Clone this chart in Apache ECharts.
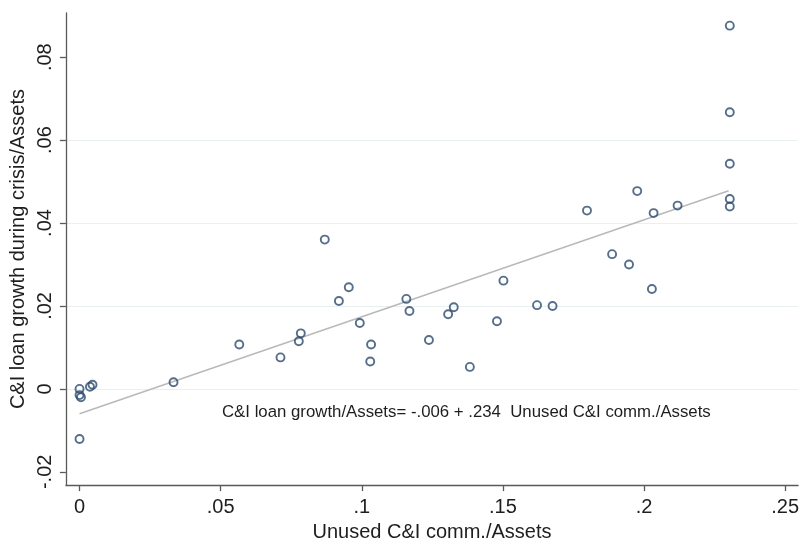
<!DOCTYPE html>
<html>
<head>
<meta charset="utf-8">
<script src="https://cdn.jsdelivr.net/npm/echarts@6/dist/echarts.min.js"></script>
<style>html,body{margin:0;padding:0;background:#fff;}#c{width:802px;height:547px;}</style>
</head>
<body>
<div id="c"></div>
<script>
// Unused C&I commitments / Assets (x) and C&I loan growth / Assets (y)
const unusedComm = [
  0, 0, 0.0005, 0.0037, 0.0046, 0, 0.0333,
  0.0566, 0.0712, 0.0777, 0.0784, 0.0869, 0.0919, 0.0954, 0.0993, 0.1033, 0.1030, 0.1158, 0.1169,
  0.1238, 0.1306, 0.1326, 0.1383, 0.1479, 0.1502, 0.1621, 0.1676,
  0.1798, 0.1887, 0.1947, 0.1976, 0.2028, 0.2034, 0.2119, 0.2304, 0.2304, 0.2304, 0.2304, 0.2304
];
const loanGrowth = [
  0.0000, -0.0015, -0.0020, 0.0005, 0.0010, -0.0121, 0.0016,
  0.0107, 0.0076, 0.0115, 0.0134, 0.0360, 0.0212, 0.0245, 0.0159, 0.0107, 0.0066, 0.0217, 0.0188,
  0.0118, 0.0180, 0.0197, 0.0053, 0.0163, 0.0261, 0.0202, 0.0200,
  0.0430, 0.0325, 0.0300, 0.0477, 0.0241, 0.0424, 0.0442, 0.0876, 0.0667, 0.0543, 0.0458, 0.0440
];
// fitted line endpoints
const fitX = [0, 0.23];
const fitY = [-0.006, 0.0478];
const xTicks = [0, 0.05, 0.1, 0.15, 0.2, 0.25];
const yTicks = [-0.02, 0, 0.02, 0.04, 0.06, 0.08];
const xTitle = 'Unused C&I comm./Assets';
const yTitle = 'C&I loan growth during crisis/Assets';
const noteText = 'C&I loan growth/Assets= -.006 + .234  Unused C&I comm./Assets';

function fmt(v) {
  v = +(+v).toFixed(4);
  if (v === 0) return '0';
  return (v < 0 ? '-' : '') + String(Math.abs(v)).replace(/^0/, '');
}

const FONT = '"Liberation Sans", Arial, Helvetica, sans-serif';
const chart = echarts.init(document.getElementById('c'));
chart.setOption({
  animation: false,
  backgroundColor: '#ffffff',
  textStyle: { fontFamily: FONT },
  grid: { left: 65, right: 1, top: 13, bottom: 54, containLabel: false },
  xAxis: {
    type: 'value',
    min: -0.00483, max: 0.2546,
    name: xTitle, nameLocation: 'middle', nameGap: 34,
    nameTextStyle: { fontSize: 20, color: '#1e1e1e', fontFamily: FONT },
    axisLine: { show: true, onZero: false, lineStyle: { color: '#5a5a5a', width: 1.3 } },
    axisTick: { show: true, length: 6, customValues: xTicks, lineStyle: { color: '#5a5a5a', width: 1.3 } },
    axisLabel: { customValues: xTicks, formatter: fmt, fontSize: 20, color: '#1e1e1e', margin: 12, fontFamily: FONT },
    splitLine: { show: false }
  },
  yAxis: {
    type: 'value',
    min: -0.0232, max: 0.09065,
    name: yTitle, nameLocation: 'middle', nameGap: 37, nameRotate: 90,
    nameTextStyle: { fontSize: 20, color: '#1e1e1e', fontFamily: FONT },
    axisLine: { show: true, onZero: false, lineStyle: { color: '#5a5a5a', width: 1.3 } },
    axisTick: { show: true, length: 6, customValues: yTicks, lineStyle: { color: '#5a5a5a', width: 1.3 } },
    axisLabel: { customValues: yTicks, formatter: fmt, fontSize: 20, color: '#1e1e1e', margin: 10, rotate: 90, fontFamily: FONT },
    splitLine: { show: true, showMinLine: false, showMaxLine: false, lineStyle: { color: '#eaf0f2', width: 1.2 } }
  },
  graphic: [{
    type: 'text', left: 222, top: 404, silent: true,
    style: { text: noteText, fontSize: 16.8, fill: '#1e1e1e', fontFamily: FONT }
  }],
  series: [
    {
      type: 'line',
      data: fitX.map((x, i) => [x, fitY[i]]),
      symbol: 'none',
      lineStyle: { color: '#b9b9b9', width: 1.6 },
      z: 1
    },
    {
      type: 'scatter',
      data: unusedComm.map((x, i) => [x, loanGrowth[i]]),
      symbol: 'circle',
      symbolSize: 8,
      itemStyle: { color: 'rgba(255,255,255,0)', borderColor: '#2a4a6e', borderWidth: 1.9 },
      z: 3
    }
  ]
});
</script>
</body>
</html>
